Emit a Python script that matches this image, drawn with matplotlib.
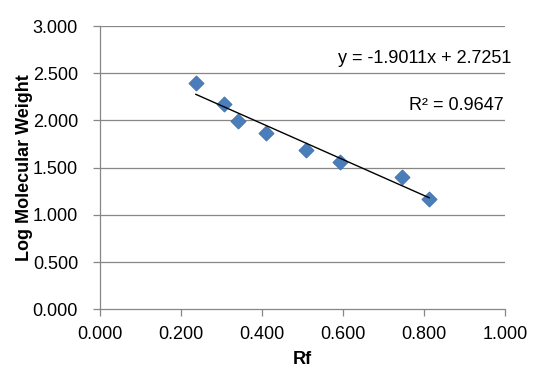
import numpy as np
import matplotlib
matplotlib.use("Agg")
import matplotlib.pyplot as plt

plt.rcParams['font.family'] = ['Liberation Sans', 'DejaVu Sans']

# Rf vs log MW
rf = [0.236, 0.306, 0.339, 0.408, 0.509, 0.592, 0.746, 0.812]
log_mw = [2.400, 2.177, 1.997, 1.870, 1.690, 1.560, 1.398, 1.168]
slope = -1.9011
intercept = 2.7251
r2 = 0.9647
xticks = np.arange(0, 1.01, 0.2)
yticks = np.arange(0, 3.01, 0.5)

fig = plt.figure(figsize=(5.42, 3.77), dpi=100)
ax = fig.add_axes([0.1850, 0.1796, 0.7472, 0.7514])

for y in yticks[1:]:
    ax.axhline(y, color='#878787', lw=0.9, zorder=0)

ax.scatter(rf, log_mw, marker='D', s=60, color='#4a7ebb', edgecolors='#3c6aa6',
           linewidths=0.5, zorder=3)

xl = np.array([min(rf), max(rf)])
ax.plot(xl, slope * xl + intercept, color='black', lw=1.0, zorder=4)

ax.set_xlim(0, 1)
ax.set_ylim(0, 3)
ax.set_xticks(xticks)
ax.set_yticks(yticks)
ax.set_xticklabels(['%.3f' % v for v in xticks])
ax.set_yticklabels(['%.3f' % v for v in yticks])
ax.tick_params(labelsize=13, color='#878787', length=5, width=0.9)
ax.tick_params(axis='y', pad=11)
ax.tick_params(axis='x', pad=7)

for s in ['top', 'right']:
    ax.spines[s].set_visible(False)
for s in ['left', 'bottom']:
    ax.spines[s].set_color('#878787')
    ax.spines[s].set_linewidth(0.9)

ax.set_xlabel('Rf', fontsize=13, fontweight='bold')
ax.set_ylabel('Log Molecular Weight', fontsize=13, fontweight='bold')
ax.xaxis.set_label_coords(0.5, -0.148)
ax.yaxis.set_label_coords(-0.165, 0.5)

ax.text(1.014, 2.661, 'y = -1.9011x + 2.7251', fontsize=13, ha='right', va='center')
ax.text(0.997, 2.163, 'R² = %.4f' % r2, fontsize=13, ha='right', va='center')

fig.savefig('out.png', dpi=100)
